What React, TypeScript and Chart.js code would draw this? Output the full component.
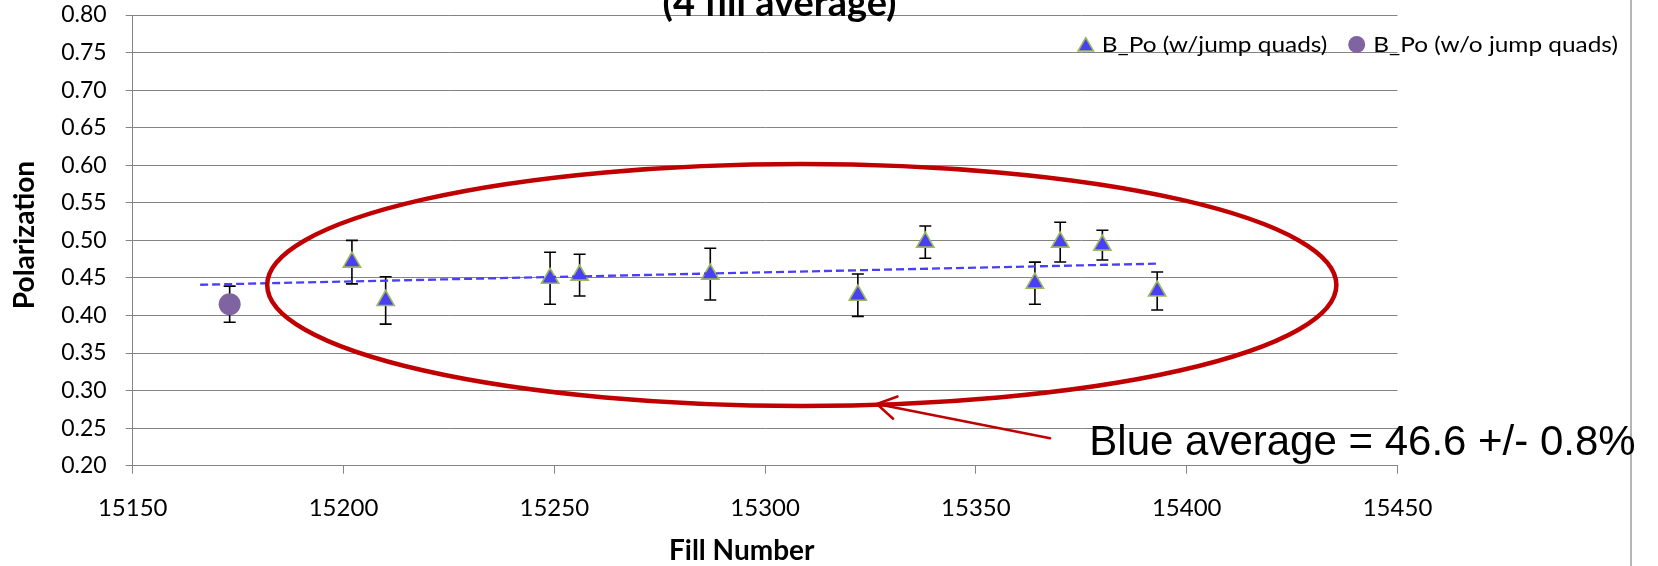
import React, { useEffect, useRef } from 'react';
import { Chart, registerables } from 'chart.js';

Chart.register(...registerables);

// ---------------- data ----------------
const FILLS_JUMP = [15202, 15210, 15249, 15256, 15287, 15322, 15338, 15364, 15370, 15380, 15393];
const POL_JUMP = [0.471, 0.420, 0.4495, 0.4537, 0.455, 0.427, 0.4976, 0.443, 0.4976, 0.4937, 0.4326];
const ERR_JUMP = [0.029, 0.0315, 0.0346, 0.0278, 0.0344, 0.0282, 0.0215, 0.028, 0.0264, 0.0198, 0.0253];

const FILLS_NOJUMP = [15173];
const POL_NOJUMP = [0.415];
const ERR_NOJUMP = [0.024];

const X_TICKS = [15150, 15200, 15250, 15300, 15350, 15400, 15450];
const Y_TICKS = [0.2, 0.25, 0.3, 0.35, 0.4, 0.45, 0.5, 0.55, 0.6, 0.65, 0.7, 0.75, 0.8];

const TREND_START = 15166; // backward-extended linear trendline

const LABEL_JUMP = 'B_Po (w/jump quads)';
const LABEL_NOJUMP = 'B_Po (w/o jump quads)';
const TITLE_TEXT = '(4 fill average)';
const X_TITLE = 'Fill Number';
const Y_TITLE = 'Polarization';
const NOTE_TEXT = 'Blue average = 46.6 +/- 0.8%';

// annotation geometry (in data units)
const ELLIPSE = { cx: 15308.7, cy: 0.4406, rx: 126.8, ry: 0.1611 };
const ARROW = { fromX: 15367.6, fromY: 0.2365, toX: 15326.5, toY: 0.2822 };
const NOTE_POS = { x: 15376.9, y: 0.2143 };

// ---------------- styles ----------------
const GRID = '#848484';
const BLUE = '#4A3FF4';
const OLIVE = '#9BBB59';
const PURPLE = '#8064A2';
const RED = '#C00000';

function linearFit(xs: number[], ys: number[]) {
  const n = xs.length;
  const mx = xs.reduce((a, b) => a + b, 0) / n;
  const my = ys.reduce((a, b) => a + b, 0) / n;
  let sxy = 0;
  let sxx = 0;
  for (let i = 0; i < n; i++) {
    sxy += (xs[i] - mx) * (ys[i] - my);
    sxx += (xs[i] - mx) * (xs[i] - mx);
  }
  const slope = sxy / sxx;
  return { slope, intercept: my - slope * mx };
}

const errorBarPlugin = {
  id: 'errorBars',
  beforeDatasetsDraw(chart: any) {
    const { ctx, scales } = chart;
    const x = scales.x;
    const y = scales.y;
    ctx.save();
    ctx.strokeStyle = '#000';
    ctx.lineWidth = 1.6;
    const series: [number[], number[], number[]][] = [
      [FILLS_JUMP, POL_JUMP, ERR_JUMP],
      [FILLS_NOJUMP, POL_NOJUMP, ERR_NOJUMP],
    ];
    for (const [xs, ys, es] of series) {
      xs.forEach((xv, i) => {
        const px = x.getPixelForValue(xv);
        const top = y.getPixelForValue(ys[i] + es[i]);
        const bot = y.getPixelForValue(ys[i] - es[i]);
        ctx.beginPath();
        ctx.moveTo(px, top);
        ctx.lineTo(px, bot);
        ctx.moveTo(px - 6, top);
        ctx.lineTo(px + 6, top);
        ctx.moveTo(px - 6, bot);
        ctx.lineTo(px + 6, bot);
        ctx.stroke();
      });
    }
    ctx.restore();
  },
};

function stretchedText(ctx: CanvasRenderingContext2D, text: string, x: number, y: number, sx: number) {
  ctx.save();
  ctx.translate(x, y);
  ctx.scale(sx, 1);
  ctx.fillText(text, 0, 0);
  ctx.restore();
}

const decorPlugin = {
  id: 'decor',
  afterDraw(chart: any) {
    const { ctx, scales, height } = chart;
    const x = scales.x;
    const y = scales.y;
    ctx.save();

    // outer frame line on the right
    ctx.strokeStyle = GRID;
    ctx.lineWidth = 1.2;
    ctx.beginPath();
    ctx.moveTo(1631, 0);
    ctx.lineTo(1631, height);
    ctx.stroke();

    // chart title (top part clipped by the canvas edge)
    ctx.fillStyle = '#000';
    ctx.font = 'bold 38px Lato';
    ctx.textAlign = 'center';
    ctx.textBaseline = 'alphabetic';
    ctx.fillText(TITLE_TEXT, 779.5, 15.5);

    // axis titles
    ctx.font = 'bold 28px Lato';
    ctx.fillText(X_TITLE, 741.7, 560);
    ctx.save();
    ctx.translate(33.5, 235);
    ctx.rotate(-Math.PI / 2);
    ctx.fillText(Y_TITLE, 0, 0);
    ctx.restore();

    // legend
    const lgY = 46.5;
    ctx.beginPath();
    const r = 9;
    const tx = 1085.8;
    ctx.moveTo(tx, lgY - r);
    ctx.lineTo(tx + r * Math.sin((2 * Math.PI) / 3), lgY + r / 2);
    ctx.lineTo(tx - r * Math.sin((2 * Math.PI) / 3), lgY + r / 2);
    ctx.closePath();
    ctx.fillStyle = BLUE;
    ctx.fill();
    ctx.strokeStyle = OLIVE;
    ctx.lineWidth = 1.5;
    ctx.stroke();

    ctx.beginPath();
    ctx.arc(1356.7, 44.5, 8.5, 0, Math.PI * 2);
    ctx.fillStyle = PURPLE;
    ctx.fill();

    ctx.fillStyle = '#000';
    ctx.font = '20.5px Lato';
    ctx.textAlign = 'left';
    ctx.textBaseline = 'alphabetic';
    stretchedText(ctx, LABEL_JUMP, 1101.7, 51.7, 1.19);
    stretchedText(ctx, LABEL_NOJUMP, 1373.3, 51.7, 1.19);

    // red ellipse annotation
    const ecx = x.getPixelForValue(ELLIPSE.cx);
    const ecy = y.getPixelForValue(ELLIPSE.cy);
    const erx = x.getPixelForValue(ELLIPSE.cx + ELLIPSE.rx) - ecx;
    const ery = ecy - y.getPixelForValue(ELLIPSE.cy + ELLIPSE.ry);
    ctx.beginPath();
    ctx.ellipse(ecx, ecy, erx, ery, 0, 0, Math.PI * 2);
    ctx.strokeStyle = RED;
    ctx.lineWidth = 4.5;
    ctx.stroke();

    // arrow
    const ax0 = x.getPixelForValue(ARROW.fromX);
    const ay0 = y.getPixelForValue(ARROW.fromY);
    const ax1 = x.getPixelForValue(ARROW.toX);
    const ay1 = y.getPixelForValue(ARROW.toY);
    const ang = Math.atan2(ay0 - ay1, ax0 - ax1);
    const headLen = 22;
    const spread = (31 * Math.PI) / 180;
    ctx.lineWidth = 2.5;
    ctx.lineCap = 'round';
    ctx.beginPath();
    ctx.moveTo(ax0, ay0);
    ctx.lineTo(ax1, ay1);
    ctx.moveTo(ax1 + headLen * Math.cos(ang + spread), ay1 + headLen * Math.sin(ang + spread));
    ctx.lineTo(ax1, ay1);
    ctx.lineTo(ax1 + headLen * Math.cos(ang - spread), ay1 + headLen * Math.sin(ang - spread));
    ctx.stroke();

    // note text
    ctx.fillStyle = '#000';
    ctx.font = '42px "Liberation Sans"';
    ctx.textAlign = 'left';
    ctx.textBaseline = 'alphabetic';
    ctx.fillText(NOTE_TEXT, x.getPixelForValue(NOTE_POS.x), y.getPixelForValue(NOTE_POS.y));

    ctx.restore();
  },
};

export default function App() {
  const canvasRef = useRef<HTMLCanvasElement | null>(null);

  useEffect(() => {
    const canvas = canvasRef.current;
    if (!canvas) return;
    const fit = linearFit(FILLS_JUMP, POL_JUMP);
    const trendXs = [TREND_START, FILLS_JUMP[FILLS_JUMP.length - 1]];
    const trendData = trendXs.map((xv) => ({ x: xv, y: fit.intercept + fit.slope * xv }));

    const chart = new Chart(canvas, {
      type: 'scatter',
      data: {
        datasets: [
          {
            label: 'Linear (' + LABEL_JUMP + ')',
            data: trendData,
            showLine: true,
            borderColor: BLUE,
            borderWidth: 2.3,
            borderDash: [8, 4],
            pointRadius: 0,
            fill: false,
          },
          {
            label: LABEL_JUMP,
            data: FILLS_JUMP.map((xv, i) => ({ x: xv, y: POL_JUMP[i] })),
            pointStyle: 'triangle',
            pointRadius: 10,
            backgroundColor: BLUE,
            borderColor: OLIVE,
            borderWidth: 1.6,
          },
          {
            label: LABEL_NOJUMP,
            data: FILLS_NOJUMP.map((xv, i) => ({ x: xv, y: POL_NOJUMP[i] })),
            pointStyle: 'circle',
            pointRadius: 11,
            backgroundColor: PURPLE,
            borderColor: PURPLE,
            borderWidth: 0,
          },
        ],
      },
      options: {
        animation: false,
        responsive: false,
        maintainAspectRatio: false,
        events: [],
        layout: {
          autoPadding: false,
          padding: { left: 0, top: 15, right: 1658 - 1397.5, bottom: 0 },
        },
        plugins: {
          legend: { display: false },
          tooltip: { enabled: false },
          title: { display: false },
        },
        scales: {
          x: {
            type: 'linear',
            min: X_TICKS[0],
            max: X_TICKS[X_TICKS.length - 1],
            afterBuildTicks: (s: any) => {
              s.ticks = X_TICKS.map((v) => ({ value: v }));
            },
            afterFit: (s: any) => {
              s.height = 566 - 465.7;
              s.paddingLeft = 0;
              s.paddingRight = 0;
              s.paddingTop = 0;
              s.paddingBottom = 0;
            },
            ticks: {
              autoSkip: false,
              maxRotation: 0,
              padding: 20,
              color: '#000',
              font: { family: 'Lato', size: 24 },
              callback: (v: any) => String(v),
            },
            grid: {
              display: true,
              drawOnChartArea: false,
              drawTicks: true,
              tickLength: 8,
              color: GRID,
              lineWidth: 1,
            },
            border: { display: true, color: GRID, width: 1 },
            title: { display: false },
          },
          y: {
            type: 'linear',
            min: Y_TICKS[0],
            max: Y_TICKS[Y_TICKS.length - 1],
            afterBuildTicks: (s: any) => {
              s.ticks = Y_TICKS.map((v) => ({ value: v }));
            },
            afterFit: (s: any) => {
              s.width = 132.7;
              s.paddingTop = 0;
              s.paddingBottom = 0;
              s.paddingLeft = 0;
              s.paddingRight = 0;
            },
            ticks: {
              padding: 19,
              color: '#000',
              font: { family: 'Lato', size: 23 },
              callback: (v: any) => Number(v).toFixed(2),
            },
            grid: {
              display: true,
              drawOnChartArea: true,
              drawTicks: true,
              tickLength: 7,
              color: GRID,
              lineWidth: 1,
            },
            border: { display: true, color: GRID, width: 1 },
            title: { display: false },
          },
        },
      },
      plugins: [errorBarPlugin, decorPlugin],
    } as any);

    return () => chart.destroy();
  }, []);

  return (
    <div style={{ position: 'absolute', left: 0, top: 0, width: 1658, height: 566, background: '#fff' }}>
      <canvas ref={canvasRef} width={1658} height={566} style={{ display: 'block', width: 1658, height: 566 }} />
    </div>
  );
}
